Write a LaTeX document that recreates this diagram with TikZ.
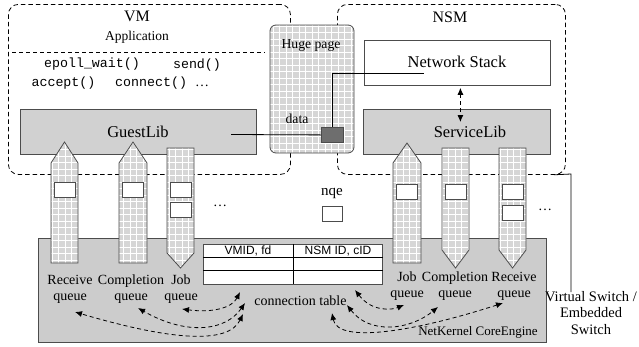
\documentclass[tikz,border=0pt]{standalone}
\usepackage{fontspec}
\setmainfont{Liberation Serif}
\newfontfamily\monof{Liberation Mono}
\newfontfamily\sansf{Liberation Sans}
\usetikzlibrary{arrows.meta}
\definecolor{libgray}{gray}{0.82}
\definecolor{coregray}{gray}{0.80}
\definecolor{gridgray}{gray}{0.84}
\definecolor{darkblk}{gray}{0.43}
\definecolor{edgegray}{gray}{0.30}
\newcommand\gridfill[1]{%
  \begin{scope}\clip #1;
    \fill[gridgray] (0,346) rectangle (639,0);
    \draw[white, line width=0.9pt, step=6.5pt] (0,346) grid (639,0);
  \end{scope}
  \draw[line width=0.8pt, draw=edgegray] #1;}
\begin{document}
\begin{tikzpicture}[x=1pt,y=-1pt,
  dashbox/.style={draw, dash pattern=on 4.5pt off 3pt, rounded corners=10pt, line width=0.8pt, inner sep=0, anchor=north west},
  libbox/.style={draw=edgegray, fill=libgray, line width=0.8pt, inner sep=0, anchor=north west},
  plainbox/.style={draw=edgegray, fill=white, line width=0.8pt, inner sep=0, anchor=north west},
  big/.style={font=\fontsize{16.5}{18}\selectfont, inner sep=0},
  lbl/.style={font=\fontsize{14}{16}\selectfont, inner sep=0, align=center},
  code/.style={font=\monof\fontsize{13.3}{15}\selectfont, inner sep=0},
  slot/.style={draw=edgegray, fill=white, line width=0.7pt, inner sep=0, minimum width=21pt},
  darr/.style={dash pattern=on 4pt off 3pt, line width=0.8pt, {Latex[length=7pt,width=6pt]}-{Latex[length=7pt,width=6pt]}},
  conn/.style={line width=0.8pt}
]
\useasboundingbox (0,0) rectangle (639,346);
\fill[white] (0,0) rectangle (639,346);

% VM and NSM dashed boxes
\node[dashbox, minimum width=282pt, minimum height=170pt] (vm) at (8,4) {};
\node[dashbox, minimum width=228pt, minimum height=170pt] (nsm) at (337,4) {};
\node[font=\fontsize{16}{18}\selectfont, inner sep=0] (vmt) at (137,16) {VM};
\node[font=\fontsize{16}{18}\selectfont, inner sep=0] (nsmt) at (450,17) {NSM};
\node[font=\fontsize{13.5}{15}\selectfont, inner sep=0] (app) at (137,37) {Application};
\coordinate (appl) at (12,52);
\coordinate (appr) at (265,52);
\draw[dash pattern=on 4pt off 3pt, line width=0.8pt] (appl) -- (appr);
\node[code] (ep) at (92,64) {epoll\_wait()};
\node[code] (sd) at (197,65) {send()};
\node[code] (ac) at (63.5,83) {accept()};
\node[code, anchor=west] (cn) at (115,83) {connect() {\rmfamily\fontsize{14}{16}\selectfont …}};

% libs
\node[libbox, minimum width=236pt, minimum height=45pt] (guest) at (20,109) {};
\node[big] (guestt) at (138,131.5) {GuestLib};
\node[plainbox, minimum width=186pt, minimum height=45pt] (ns) at (364,40) {};
\node[big] (nst) at (457,62) {Network Stack};
\node[libbox, minimum width=187pt, minimum height=45pt] (sl) at (363,109) {};
\node[big] (slt) at (470,131.5) {ServiceLib};

% huge page
\gridfill{[rounded corners=6pt] (270,25) rectangle (354,153)}
\node[font=\fontsize{13.7}{15}\selectfont, inner sep=0] (hp) at (311,45) {Huge page};
\node[font=\fontsize{13.7}{15}\selectfont, inner sep=0] (dt) at (297,119) {data};
\node[draw=edgegray, fill=darkblk, line width=0.8pt, inner sep=0, minimum width=22pt, minimum height=15pt, anchor=north west] (datab) at (321,127) {};
\coordinate (glout) at (231,134.5);
\coordinate (nsin) at (424,73);
\draw[conn] (glout) -- (datab.west);
\draw[conn] (datab.north) |- (nsin);
\draw[darr] ([xshift=3pt,yshift=-2pt]ns.south) -- ([xshift=3.5pt,yshift=-13pt]sl.north);

% core engine
\node[libbox, fill=coregray, minimum width=508pt, minimum height=104pt] (core) at (38,238) {};
\node[font=\fontsize{13}{15}\selectfont, inner sep=0] (coret) at (478,332) {NetKernel CoreEngine};

% virtual switch
\node[lbl, font=\fontsize{14.5}{16.5}\selectfont] (vs) at (591,313) {Virtual Switch /\\Embedded\\Switch};
\coordinate (vsc) at (571,174);
\draw[conn] ([xshift=-12pt]nsm.south east) -- (vsc) -- (vsc |- 0,292);

% queues left
\gridfill{(51,163) -- (64.5,142) -- (78,163) -- (78,263) -- (51,263) -- cycle}
\gridfill{(119,163) -- (133,142) -- (147,163) -- (147,263) -- (119,263) -- cycle}
\gridfill{(167,148) -- (194,148) -- (194,253) -- (180.5,268) -- (167,253) -- cycle}
% queues right
\gridfill{(393,163) -- (407,143) -- (421,163) -- (421,263) -- (393,263) -- cycle}
\gridfill{(442,148) -- (469,148) -- (469,250) -- (455.5,268) -- (442,250) -- cycle}
\gridfill{(499,148) -- (526,148) -- (526,250) -- (512.5,268) -- (499,250) -- cycle}

% slots
\node[slot, minimum height=15pt] (s1) at (64.5,189.5) {};
\node[slot, minimum height=15pt] (s2) at (133,189.5) {};
\node[slot, minimum height=15pt] (s3) at (181,189.5) {};
\node[slot, minimum height=15pt] (s4) at (181,209.5) {};
\node[slot, minimum height=15pt] (s5) at (407,191.5) {};
\node[slot, minimum height=15pt] (s6) at (455.5,191.5) {};
\node[slot, minimum height=15pt] (s7) at (512.5,191.5) {};
\node[slot, minimum height=15pt] (s8) at (512.5,212.5) {};
\node[font=\fontsize{14}{16}\selectfont, inner sep=0] (d1) at (220,206) {…};
\node[font=\fontsize{14}{16}\selectfont, inner sep=0] (d2) at (545,210) {…};
\node[font=\fontsize{15}{17}\selectfont, inner sep=0] (nqet) at (332,193) {nqe};
\node[slot, minimum height=15pt, minimum width=20pt] (nqe) at (332,213.5) {};

% queue labels
\node[lbl] (lrq) at (70,289) {Receive\\queue};
\node[lbl] (lcq) at (131,289) {Completion\\queue};
\node[lbl] (ljq) at (181,289) {Job\\queue};
\node[lbl] (rjq) at (407,286.5) {Job\\queue};
\node[lbl] (rcq) at (455,286.5) {Completion\\queue};
\node[lbl] (rrq) at (514,286.5) {Receive\\queue};

% connection table
\node[plainbox, minimum width=179pt, minimum height=40pt] (tbl) at (203,244) {};
\coordinate (tr1l) at (203,257.7);
\coordinate (tr2l) at (203,270.7);
\draw[line width=0.8pt] (tr1l) -- (tr1l -| tbl.east);
\draw[line width=1.4pt] (tr2l) -- (tr2l -| tbl.east);
\draw[line width=0.8pt] (293,244) -- (293,284);
\node[font=\sansf\fontsize{12}{14}\selectfont, inner sep=0] (h1) at (248,251) {VMID, fd};
\node[font=\sansf\fontsize{12}{14}\selectfont, inner sep=0] (h2) at (338,251) {NSM ID, cID};
\node[lbl] (ctt) at (300.5,301) {connection table};

% dashed arrows left
\coordinate (la1) at (240,292);
\coordinate (la2) at (245,303);
\coordinate (la3) at (243,314);
\draw[darr] (la1) .. controls (232,308) and (212,313) .. (182,309);
\draw[darr] (la2) .. controls (225,332) and (185,335) .. (138,308);
\draw[darr] (la3) .. controls (228,345) and (170,340) .. (75,312);
% dashed arrows right
\coordinate (ra1) at (355,290);
\coordinate (ra2) at (347,305);
\coordinate (ra3) at (332,313);
\draw[darr] (ra1) .. controls (372,312) and (392,310) .. (404,305);
\draw[darr] (ra2) .. controls (370,335) and (410,330) .. (438,307);
\draw[darr] (ra3) .. controls (338,345) and (420,330) .. (503,303);
\end{tikzpicture}
\end{document}
